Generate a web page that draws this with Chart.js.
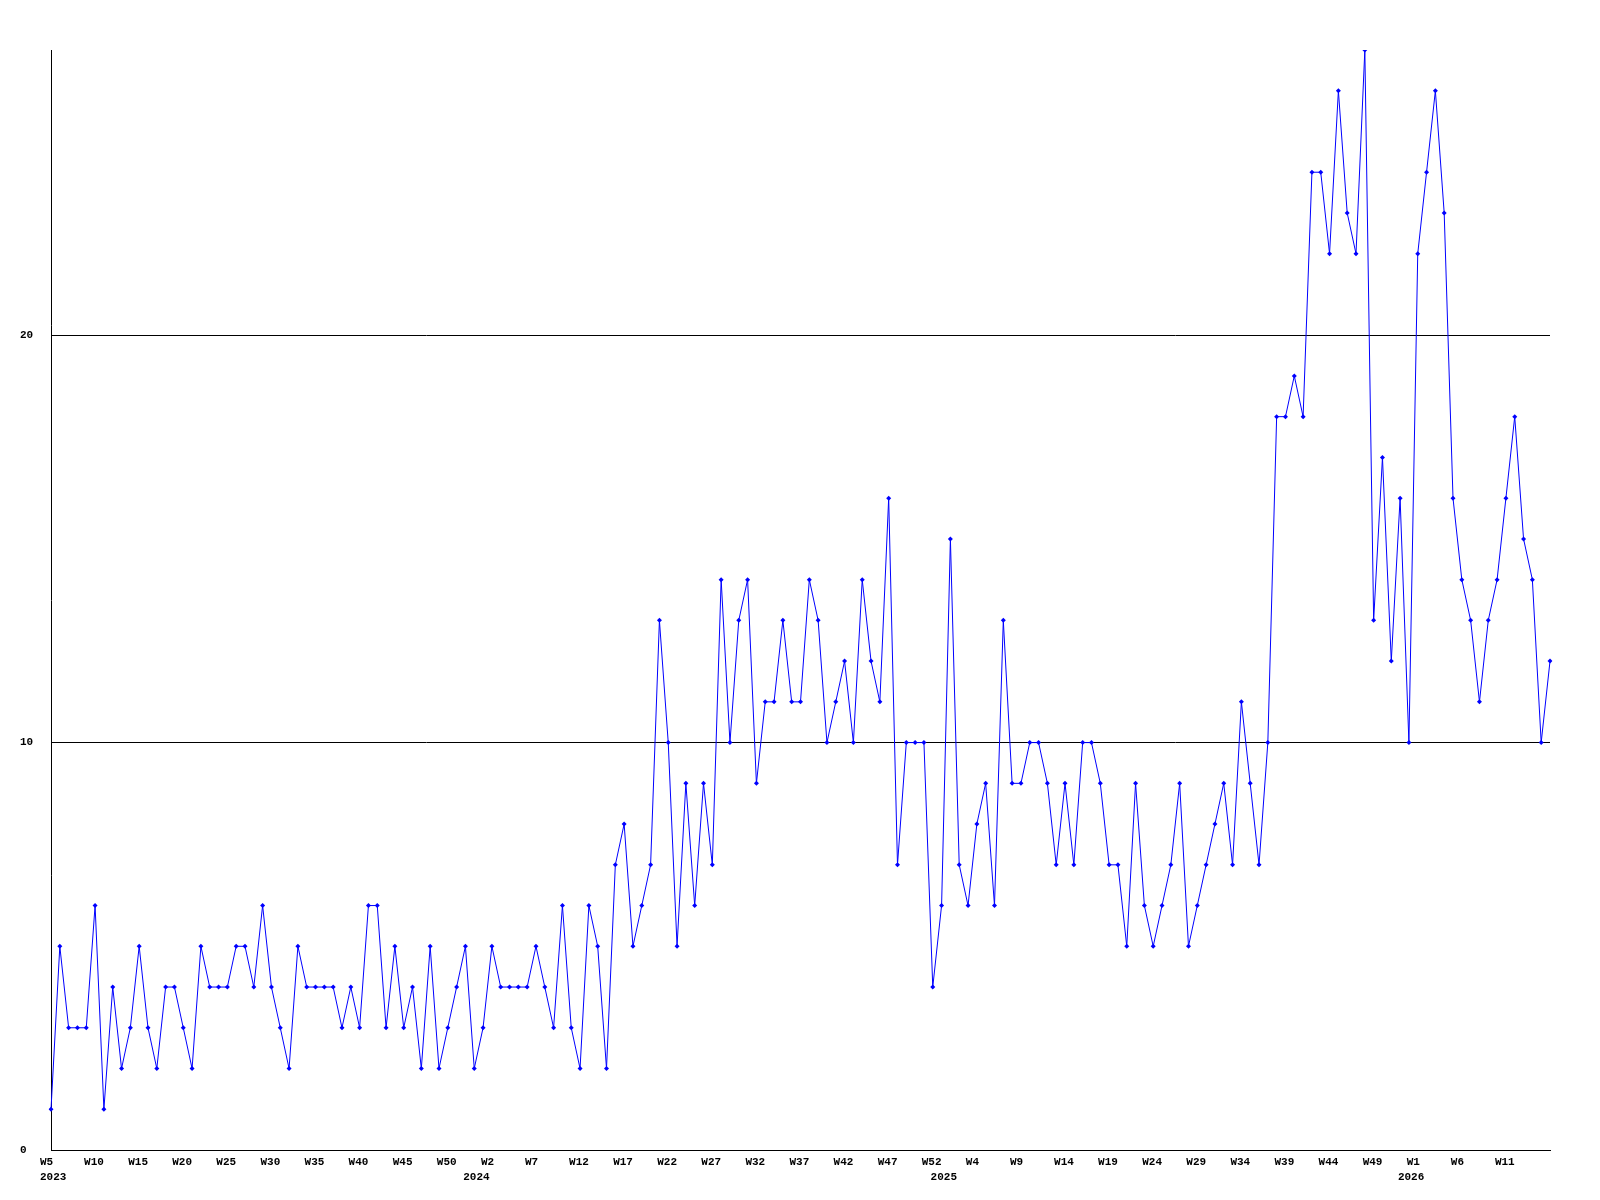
<!DOCTYPE html>
<html>
<head>
<meta charset="utf-8">
<script src="https://cdn.jsdelivr.net/npm/chart.js@4.4.1/dist/chart.umd.min.js"></script>
<style>
  html, body { margin: 0; padding: 0; background: #fff; }
  #wrap { width: 1600px; height: 1200px; }
</style>
</head>
<body>
<div id="wrap"><canvas id="chart" width="1600" height="1200"></canvas></div>
<script>
// weekly counts, one array per year (2023 starts at W5, each year runs to W53)
const years = ['2023', '2024', '2025', '2026'];
const firstWeek = [5, 1, 1, 1];

const values2023 = [1, 5, 3, 3, 3, 6, 1, 4, 2, 3, 5, 3, 2, 4, 4, 3, 2, 5, 4, 4, 4, 5, 5, 4, 6, 4, 3, 2, 5, 4,
    4, 4, 4, 3, 4, 3, 6, 6, 3, 5, 3, 4, 2, 5, 2, 3, 4, 5, 2];
const values2024 = [3, 5, 4, 4, 4, 4, 5, 4, 3, 6, 3, 2, 6, 5, 2, 7, 8, 5, 6, 7, 13, 10, 5, 9, 6, 9, 7, 14, 10, 13,
    14, 9, 11, 11, 13, 11, 11, 14, 13, 10, 11, 12, 10, 14, 12, 11, 16, 7, 10, 10, 10, 4, 6];
const values2025 = [15, 7, 6, 8, 9, 6, 13, 9, 9, 10, 10, 9, 7, 9, 7, 10, 10, 9, 7, 7, 5, 9, 6, 5, 6, 7, 9, 5, 6, 7,
    8, 9, 7, 11, 9, 7, 10, 18, 18, 19, 18, 24, 24, 22, 26, 23, 22, 27, 13, 17, 12, 16, 10];
const values2026 = [22, 24, 26, 23, 16, 14, 13, 11, 13, 14, 16, 18, 15, 14, 10, 12];

const yTicks = [0, 10, 20];
const yMax = 27;

const perYear = [values2023, values2024, values2025, values2026];

// build category labels W<n> and remember where each year caption goes
const labels = [];
const data = [];
const yearAt = {};
perYear.forEach((vals, y) => {
    // year caption sits on the last week of the previous year, like the original
    yearAt[y === 0 ? 0 : labels.length - 1] = years[y];
    vals.forEach((v, k) => {
        labels.push('W' + (firstWeek[y] + k));
        data.push(v);
    });
});

Chart.defaults.font.family = "'Liberation Mono', 'DejaVu Sans Mono', monospace";
Chart.defaults.font.size = 11;
Chart.defaults.font.weight = 'bold';
Chart.defaults.color = '#000';

const ctx = document.getElementById('chart').getContext('2d');
new Chart(ctx, {
    type: 'line',
    data: {
        labels: labels,
        datasets: [{
            data: data,
            borderColor: '#0000ff',
            backgroundColor: '#0000ff',
            borderWidth: 1,
            tension: 0,
            pointStyle: 'rectRot',
            pointRadius: 2.5,
            pointBorderWidth: 0,
            pointHoverRadius: 2.5
        }]
    },
    options: {
        responsive: false,
        animation: false,
        devicePixelRatio: 1,
        layout: {
            padding: { left: 20, right: 50, top: 50, bottom: 0 }
        },
        plugins: {
            legend: { display: false },
            tooltip: { enabled: false }
        },
        scales: {
            x: {
                offset: false,
                grid: { display: true, color: 'rgba(0,0,0,0)', drawOnChartArea: false, drawTicks: false },
                border: { display: true, color: '#000', width: 1 },
                afterFit: function(scale) { scale.height = 50; },
                ticks: {
                    autoSkip: false,
                    maxRotation: 0,
                    minRotation: 0,
                    align: 'start',
                    labelOffset: -11,
                    padding: 5,
                    font: { lineHeight: '15px' },
                    callback: function(value, index) {
                        const week = (index % 5 === 0 && index < labels.length - 1) ? labels[index] : '';
                        if (yearAt[index] !== undefined) {
                            return [week, yearAt[index]];
                        }
                        return week;
                    }
                }
            },
            y: {
                min: 0,
                max: yMax,
                afterFit: function(scale) { scale.width = 31; },
                afterBuildTicks: function(scale) {
                    scale.ticks = yTicks.map(v => ({ value: v }));
                },
                grid: { color: '#000', lineWidth: 1, drawTicks: false },
                border: { display: true, color: '#000', width: 1 },
                ticks: {
                    crossAlign: 'far',
                    padding: 0
                }
            }
        }
    }
});
</script>
</body>
</html>
